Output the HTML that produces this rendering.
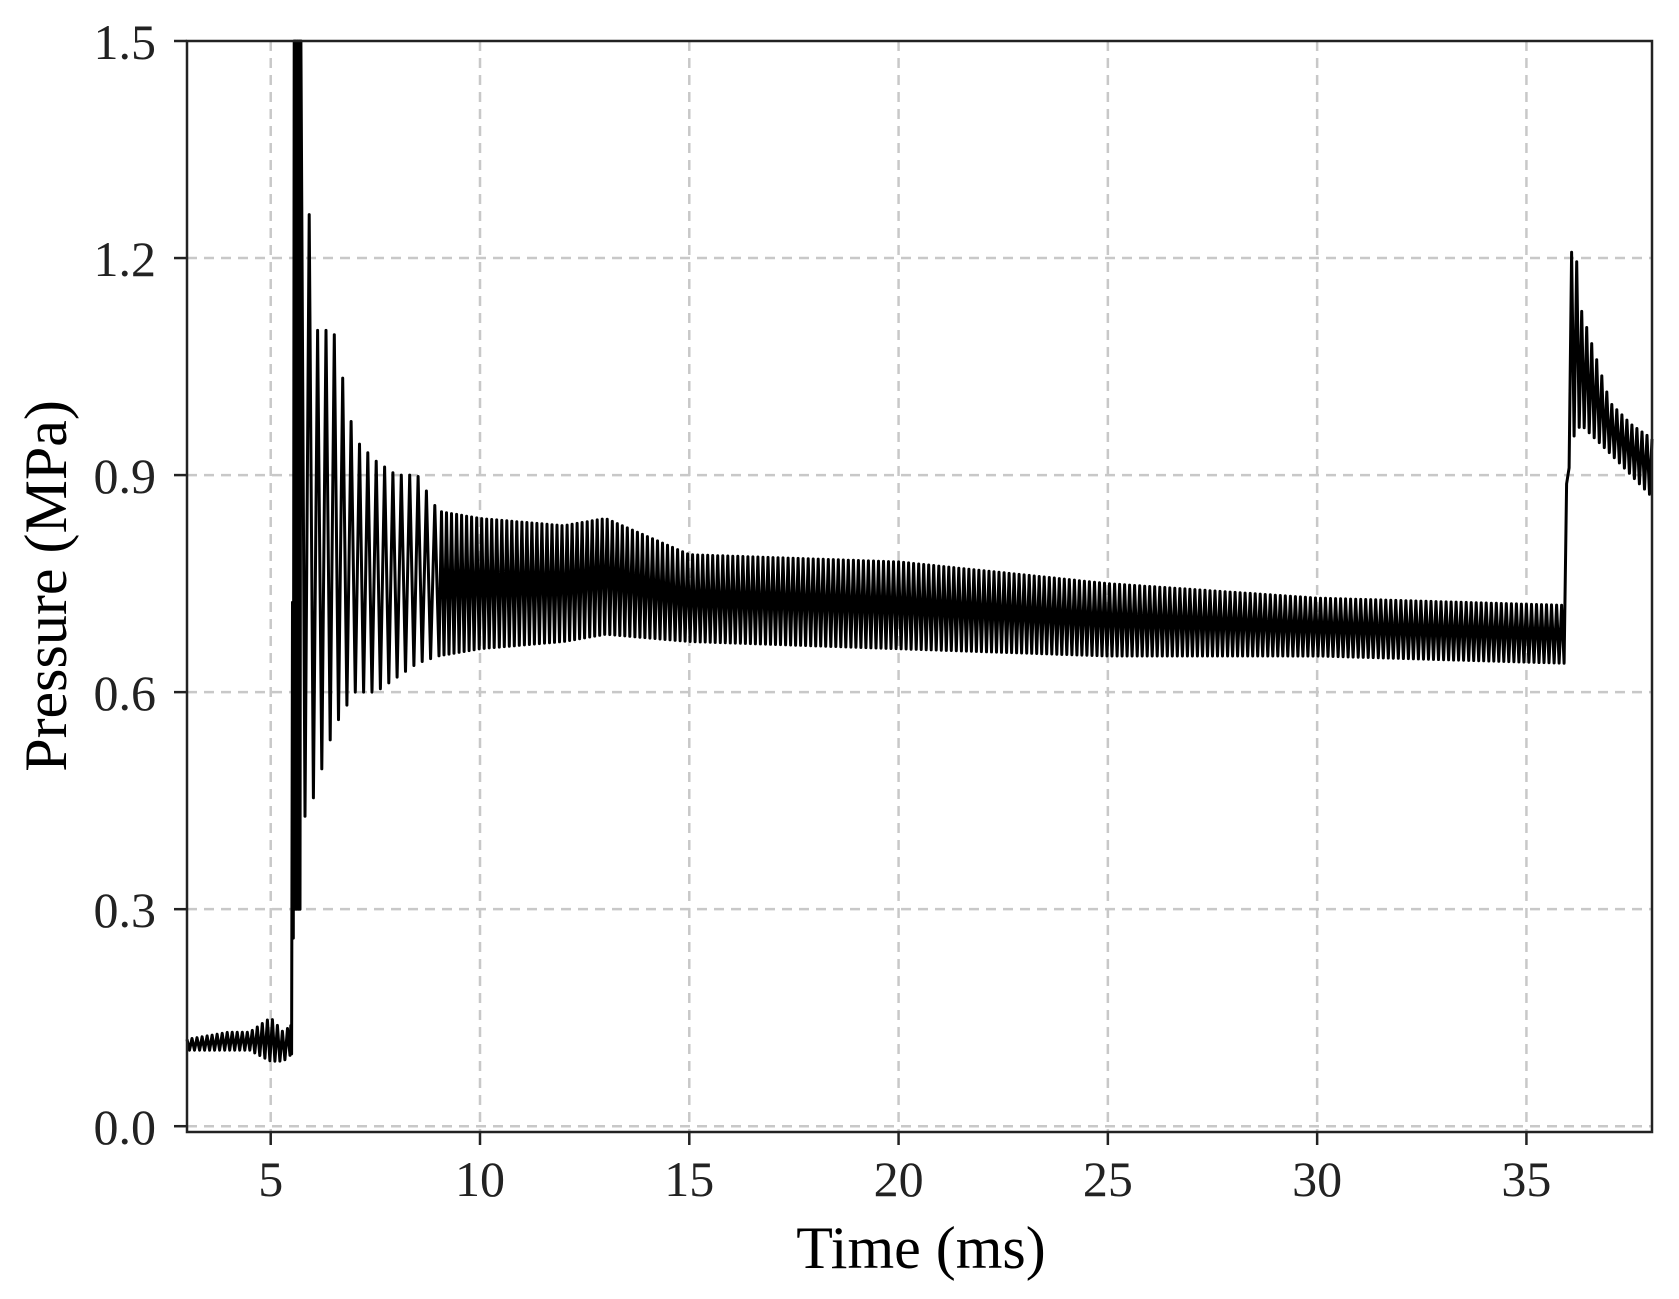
<!DOCTYPE html>
<html><head><meta charset="utf-8"><style>
html,body{margin:0;padding:0;background:#fff;}
svg{display:block;font-family:"Liberation Serif",serif;}
</style></head><body>
<svg id="chart" width="1679" height="1299" viewBox="0 0 1679 1299" xmlns="http://www.w3.org/2000/svg">
<g id="grid"></g>
<g id="series"></g>
<rect x="187" y="41" width="1465" height="1091" fill="none" stroke="#222" stroke-width="2.5"/>
<g id="ticks"></g>
<text x="921" y="1268" font-size="60" text-anchor="middle">Time (ms)</text>
<text x="0" y="0" font-size="60" text-anchor="middle" transform="translate(66,586) rotate(-90)">Pressure (MPa)</text>
</svg>
<script>
const xTicks=[5,10,15,20,25,30,35];
const yTicks=[0.0,0.3,0.6,0.9,1.2,1.5];
const yTickLabels=["0.0","0.3","0.6","0.9","1.2","1.5"];
const envTime=[3,4,4.5,5,5.3,5.5,5.55,5.7,5.75,6,6.5,7,7.5,8,8.5,9,10,12,13,15,20,25,30,35.9,36.0,36.1,36.3,37,37.5,38];
const envHigh=[0.12,0.13,0.13,0.15,0.13,0.14,1.6,1.6,1.6,1.1,1.1,0.95,0.92,0.9,0.9,0.85,0.84,0.83,0.84,0.79,0.78,0.75,0.73,0.72,1.0,1.26,1.13,1.0,0.97,0.95];
const envLow=[0.105,0.105,0.105,0.09,0.09,0.10,0.3,0.3,0.42,0.45,0.55,0.6,0.6,0.62,0.64,0.65,0.66,0.67,0.68,0.67,0.66,0.65,0.65,0.64,0.9,0.95,0.97,0.93,0.9,0.87];
const X0=3,X1=38,Y0=-0.008,Y1=1.5;
const L=187,R=1652,T=41,B=1132;
function sx(v){return L+(v-X0)/(X1-X0)*(R-L);}
function sy(v){return B-(v-Y0)/(Y1-Y0)*(B-T);}
const NS="http://www.w3.org/2000/svg";
function mk(tag,attrs,parent){const e=document.createElementNS(NS,tag);for(const k in attrs)e.setAttribute(k,attrs[k]);parent.appendChild(e);return e;}
const grid=document.getElementById('grid'),ticks=document.getElementById('ticks'),series=document.getElementById('series');
xTicks.forEach(v=>{
  const g=mk('line',{x1:sx(v),x2:sx(v),y1:T,y2:B,stroke:'#c8c8c8','stroke-width':2.5,'stroke-dasharray':'10 7'},grid);
  
  
  const t=mk('line',{x1:sx(v),x2:sx(v),y1:B,y2:B+13,stroke:'#222','stroke-width':2.5},ticks);
  
  
  const lb=mk('text',{x:sx(v),y:1196,'font-size':50,'text-anchor':'middle',fill:'#222'},ticks);
  lb.textContent=String(v);
  
  
});
yTicks.forEach((v,i)=>{
  if(v<1.5){const g=mk('line',{x1:L,x2:R,y1:sy(v),y2:sy(v),stroke:'#c8c8c8','stroke-width':2.5,'stroke-dasharray':'10 7'},grid);
  
  }
  const t=mk('line',{x1:L-13,x2:L,y1:sy(v),y2:sy(v),stroke:'#222','stroke-width':2.5},ticks);
  
  
  const lb=mk('text',{x:156,y:sy(v)+18,'font-size':50,'text-anchor':'end',fill:'#222'},ticks);
  lb.textContent=yTickLabels[i];
  
  
});
function interp(arr,t){
  for(let i=0;i<envTime.length-1;i++){if(t<=envTime[i+1]){const f=(t-envTime[i])/(envTime[i+1]-envTime[i]);return arr[i]+f*(arr[i+1]-arr[i]);}}
  return arr[arr.length-1];
}
let d='';let k=0;
for(let t=X0;t<=X1+1e-9;t+= (t>5.7&&t<9)?0.1:(t>5.45&&t<=5.7?0.02:0.06)){
  const v=(k%2===0)?interp(envHigh,t):interp(envLow,t);
  let y=Math.max(T,Math.min(B,sy(v)));
  d+=(k===0?'M':'L')+sx(t).toFixed(1)+','+y.toFixed(1);
  k++;
}
const p=mk('path',{d:d,fill:'none',stroke:'#000','stroke-width':3,'stroke-linejoin':'round'},series);


</script>
</body></html>
